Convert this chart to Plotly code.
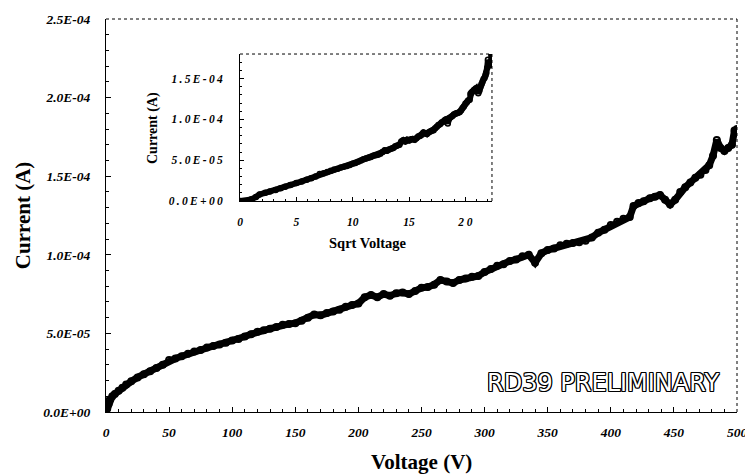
import math
import plotly.graph_objects as go

# ---- data (Voltage V, Current in units of 1e-5 A) ----
voltage = [0, 1, 2, 3, 5, 7, 10, 13, 16, 20, 25, 30, 35, 40, 45, 50, 55, 60, 65, 70,
           75, 80, 85, 90, 95, 100, 105, 110, 115, 120, 125, 130, 135, 140, 145, 150,
           155, 160, 165, 170, 175, 180, 185, 190, 195, 200, 205, 210, 215, 220, 225,
           230, 235, 240, 245, 250, 255, 260, 265, 270, 275, 280, 285, 290, 295, 300,
           305, 310, 315, 320, 325, 330, 335, 340, 345, 350, 355, 360, 365, 370, 375,
           380, 385, 390, 395, 400, 405, 410, 415, 418, 422, 426, 431, 435, 439, 443,
           447, 451, 455, 459, 463, 467, 471, 475, 478, 481, 484, 487, 490, 493, 496,
           498, 500]
current_e5 = [0.0, 0.2, 0.5, 0.8, 1.0, 1.15, 1.35, 1.55, 1.75, 1.95, 2.2, 2.4, 2.6, 2.8,
              3.0, 3.3, 3.4, 3.55, 3.7, 3.85, 3.95, 4.1, 4.2, 4.3, 4.4, 4.55, 4.65, 4.8,
              4.95, 5.1, 5.2, 5.3, 5.4, 5.55, 5.6, 5.65, 5.8, 6.0, 6.2, 6.15, 6.3, 6.4,
              6.5, 6.7, 6.8, 6.9, 7.3, 7.45, 7.3, 7.5, 7.4, 7.55, 7.6, 7.5, 7.7, 7.9,
              7.95, 8.1, 8.4, 8.3, 8.2, 8.4, 8.5, 8.6, 8.65, 8.9, 9.1, 9.3, 9.4, 9.6,
              9.7, 9.9, 10.0, 9.5, 10.1, 10.3, 10.4, 10.6, 10.7, 10.75, 10.8, 10.9, 11.1,
              11.4, 11.6, 11.9, 12.1, 12.3, 12.4, 13.1, 13.3, 13.4, 13.6, 13.7, 13.8,
              13.5, 13.2, 13.5, 14.0, 14.3, 14.6, 14.9, 15.1, 15.4, 15.7, 16.3, 17.3,
              16.8, 16.6, 16.8, 17.0, 17.9, 18.0]

main_x_ticks = [0, 50, 100, 150, 200, 250, 300, 350, 400, 450, 500]
main_y_ticks = [0, 5e-5, 1e-4, 1.5e-4, 2e-4, 2.5e-4]
main_y_labels = ["0.0E+00", "5.0E-05", "1.0E-04", "1.5E-04", "2.0E-04", "2.5E-04"]
inset_x_ticks = [0, 5, 10, 15, 20]
inset_x_labels = ["0", "5", "10", "15", "2 0"]
inset_y_ticks = [0, 5e-5, 1e-4, 1.5e-4]
inset_y_labels = ["0.0E+00", "5.0E-05", "1.0E-04", "1.5E-04"]

current = [c * 1e-5 for c in current_e5]
sqrt_v = [math.sqrt(v) for v in voltage]
THIN = "\u2009"
inset_y_text = [THIN.join(list(s)) for s in inset_y_labels]

SERIF = "Liberation Serif, Times New Roman, serif"
tickfont_main = dict(family=SERIF, size=13.5, color="black", weight="bold", style="italic")
tickfont_inset = dict(family=SERIF, size=11.5, color="black", weight="bold", style="italic")

fig = go.Figure()
fig.add_trace(go.Scatter(
    x=voltage, y=current, mode="lines+markers",
    line=dict(color="black", width=7),
    marker=dict(symbol="circle-open", size=6, color="black", line=dict(width=2, color="black")),
    xaxis="x", yaxis="y", showlegend=False))
fig.add_trace(go.Scatter(
    x=sqrt_v, y=current, mode="lines+markers",
    line=dict(color="black", width=6),
    marker=dict(symbol="circle-open", size=5, color="black", line=dict(width=1.5, color="black")),
    xaxis="x2", yaxis="y2", showlegend=False))

ix0, ix1 = 0.2124, 0.6117
iy0, iy1 = 0.5369, 0.9109

common = dict(showgrid=False, zeroline=False, showline=True, linecolor="black", linewidth=1,
              ticks="inside", tickcolor="black", ticklabeloverflow="allow", automargin=False)

fig.update_layout(
    width=745, height=475,
    margin=dict(l=106, r=8, t=19, b=63, autoexpand=False),
    paper_bgcolor="white", plot_bgcolor="white",
    xaxis=dict(domain=[0, 1], range=[0, 500], tickmode="array", tickvals=main_x_ticks,
               ticklen=5, tickfont=tickfont_main, ticklabelstandoff=8,
               minor=dict(tickmode="linear", tick0=0, dtick=10, ticks="inside", ticklen=3,
                          tickcolor="black"),
               anchor="y", **common),
    yaxis=dict(domain=[0, 1], range=[0, 2.5e-4], tickmode="array", tickvals=main_y_ticks,
               ticktext=main_y_labels, ticklen=5, tickfont=tickfont_main, ticklabelstandoff=12,
               minor=dict(tickmode="linear", tick0=0, dtick=1e-5, ticks="inside", ticklen=3,
                          tickcolor="black"),
               anchor="x", **common),
    xaxis2=dict(domain=[ix0, ix1], range=[0, 22.36], tickmode="array", tickvals=inset_x_ticks,
                ticktext=inset_x_labels, ticklen=4, tickfont=tickfont_inset, ticklabelstandoff=10,
                minor=dict(tickmode="linear", tick0=0, dtick=1, ticks="inside", ticklen=2,
                           tickcolor="black"),
                anchor="y2", **common),
    yaxis2=dict(domain=[iy0, iy1], range=[0, 1.8e-4], tickmode="array", tickvals=inset_y_ticks,
                ticktext=inset_y_text, ticklen=4, tickfont=tickfont_inset, ticklabelstandoff=14,
                minor=dict(tickmode="linear", tick0=0, dtick=1e-5, ticks="inside", ticklen=2,
                           tickcolor="black"),
                anchor="x2", **common),
)

# dotted top/right borders
for xr, yr in (("x domain", "y domain"), ("x2 domain", "y2 domain")):
    fig.add_shape(type="line", xref=xr, yref=yr, x0=0, x1=1, y0=1, y1=1,
                  line=dict(color="black", width=1, dash="dot"))
    fig.add_shape(type="line", xref=xr, yref=yr, x0=1, x1=1, y0=0, y1=1,
                  line=dict(color="black", width=1, dash="dot"))

title_font = dict(family=SERIF, size=21, color="black", weight="bold")
fig.add_annotation(text="Voltage (V)", xref="paper", yref="paper", x=0.5, y=-0.128,
                   showarrow=False, font=title_font, xanchor="center", yanchor="middle")
fig.add_annotation(text="Current (A)", xref="paper", yref="paper", x=-0.132, y=0.5,
                   textangle=-90, showarrow=False, font=title_font,
                   xanchor="center", yanchor="middle")
inset_title_font = dict(family=SERIF, size=14.5, color="black", weight="bold")
fig.add_annotation(text="Sqrt Voltage", xref="paper", yref="paper", x=(368 - 106) / 631,
                   y=(412 - 243) / 393, showarrow=False, font=inset_title_font,
                   xanchor="center", yanchor="middle")
fig.add_annotation(text="Current (A)", xref="paper", yref="paper", x=(153 - 106) / 631,
                   y=(412 - 128) / 393, textangle=-90, showarrow=False,
                   font=dict(family=SERIF, size=14, color="black", weight="bold"),
                   xanchor="center", yanchor="middle")

fig.add_annotation(text="RD39 PRELIMINARY", xref="paper", yref="paper",
                   x=(603 - 106) / 631, y=(412 - 383) / 393, showarrow=False,
                   xanchor="center", yanchor="middle",
                   font=dict(family="DejaVu Sans", size=24, color="white",
                             shadow="1px 0 0 #000, -1px 0 0 #000, 0 1px 0 #000, 0 -1px 0 #000, 1px 1px 0 #000, -1px -1px 0 #000, 1px -1px 0 #000, -1px 1px 0 #000"))

fig.write_html("out.html")
